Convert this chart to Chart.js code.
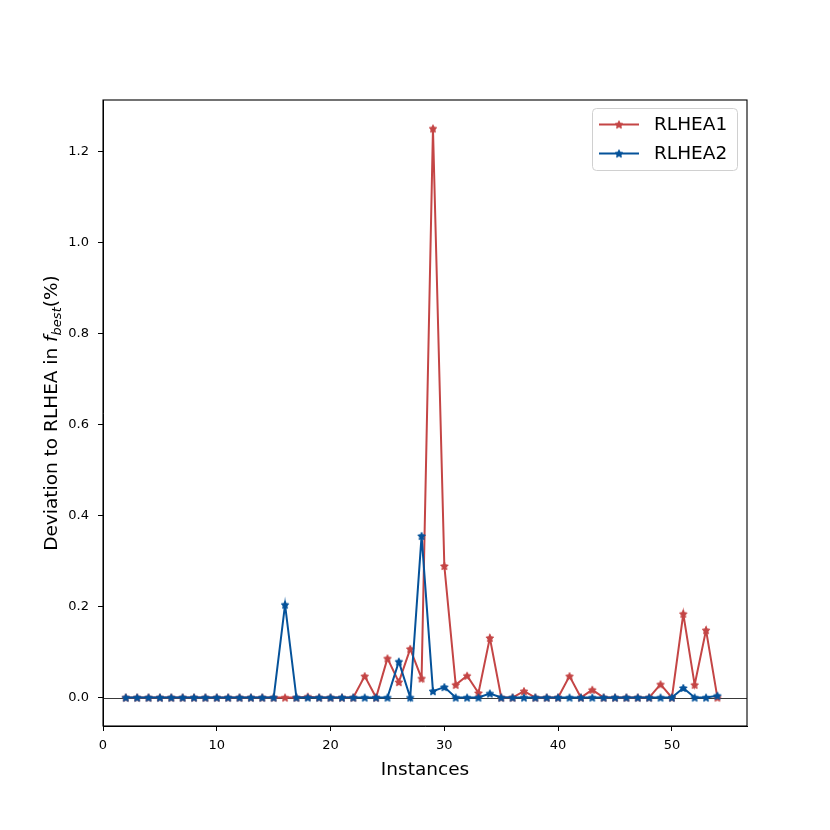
<!DOCTYPE html>
<html>
<head>
<meta charset="utf-8">
<script src="https://cdn.jsdelivr.net/npm/chart.js@4"></script>
<style>
  body { margin: 0; background: #fff; }
  #chart { display: block; }
</style>
</head>
<body>
<canvas id="chart" width="830" height="830" style="width:830px;height:830px"></canvas>
<script>
// Data
const instances = [2, 3, 4, 5, 6, 7, 8, 9, 10, 11, 12, 13, 14, 15, 16, 17, 18, 19, 20, 21, 22, 23, 24, 25, 26, 27, 28,
  29, 30, 31, 32, 33, 34, 35, 36, 37, 38, 39, 40, 41, 42, 43, 44, 45, 46, 47, 48, 49, 50, 51, 52, 53, 54];

const rlhea1 = [0, 0, 0, 0, 0, 0, 0, 0, 0, 0, 0, 0, 0, 0, 0, 0, 0.002, 0, 0, 0, 0, 0.047, 0, 0.086, 0.034, 0.107, 0.042,
  1.25, 0.289, 0.028, 0.048, 0.010, 0.131, 0, 0, 0.014, 0, 0, 0, 0.047, 0, 0.017, 0, 0, 0, 0, 0, 0.029, 0, 0.184, 0.028, 0.148, 0];

const rlhea2 = [0, 0, 0, 0, 0, 0, 0, 0, 0, 0, 0, 0, 0, 0, 0.204, 0, 0, 0, 0, 0, 0, 0, 0, 0, 0.079, 0, 0.355,
  0.014, 0.023, 0, 0, 0, 0.009, 0, 0, 0, 0, 0, 0, 0, 0, 0, 0, 0, 0, 0, 0, 0, 0, 0.021, 0, 0, 0.004];

const seriesNames = ["RLHEA1", "RLHEA2"];
const xTicks = [0, 10, 20, 30, 40, 50];
const yTicks = [0, 0.2, 0.4, 0.6, 0.8, 1.0, 1.2];

const RED = "#c44545";
const BLUE = "#05529a";
const FONT = "'DejaVu Sans', sans-serif";

// Star marker as a small canvas
function starImage(color, r) {
  const size = Math.ceil(r * 2 + 4);
  const c = document.createElement("canvas");
  c.width = c.height = size;
  const g = c.getContext("2d");
  g.translate(size / 2, size / 2 + 0.4);
  g.beginPath();
  for (let i = 0; i < 10; i++) {
    const rad = i % 2 === 0 ? r : r * 0.5;
    const a = -Math.PI / 2 + i * Math.PI / 5;
    g.lineTo(rad * Math.cos(a), rad * Math.sin(a));
  }
  g.closePath();
  g.fillStyle = color;
  g.fill();
  g.strokeStyle = color;
  g.lineWidth = 1;
  g.lineJoin = "round";
  g.stroke();
  return c;
}

const redStar = starImage(RED, 4);
const blueStar = starImage(BLUE, 4);

function toPoints(ys) {
  return instances.map((x, i) => ({ x: x, y: ys[i] }));
}

// Extras: frame, zero line, axis titles, legend
const extras = {
  id: "extras",
  beforeDatasetsDraw(chart) {
    const { ctx, chartArea: a, scales } = chart;
    const y0 = Math.round(scales.y.getPixelForValue(0)) + 0.5;
    ctx.save();
    ctx.strokeStyle = "#222";
    ctx.lineWidth = 0.9;
    ctx.beginPath();
    ctx.moveTo(a.left, y0);
    ctx.lineTo(a.right, y0);
    ctx.stroke();
    ctx.restore();
  },
  afterDraw(chart) {
    const { ctx, chartArea: a } = chart;
    ctx.save();
    // frame
    ctx.strokeStyle = "#000";
    ctx.lineWidth = 1.1;
    ctx.strokeRect(a.left, a.top, a.right - a.left, a.bottom - a.top);

    // x title
    ctx.fillStyle = "#000";
    ctx.font = "18.5px " + FONT;
    ctx.textAlign = "center";
    ctx.textBaseline = "alphabetic";
    ctx.fillText("Instances", (a.left + a.right) / 2, 775);

    // y title with italic f_best
    const parts = [
      { t: "Deviation to RLHEA in ", f: "18.5px " + FONT, dy: 0 },
      { t: "f", f: "italic 18.5px " + FONT, dy: 0 },
      { t: "best", f: "italic 13px " + FONT, dy: 4 },
      { t: "(%)", f: "18.5px " + FONT, dy: 0 }
    ];
    let total = 0;
    parts.forEach(p => { ctx.font = p.f; p.w = ctx.measureText(p.t).width; total += p.w; });
    ctx.translate(57, (a.top + a.bottom) / 2);
    ctx.rotate(-Math.PI / 2);
    ctx.textAlign = "left";
    let x = -total / 2;
    parts.forEach(p => {
      ctx.font = p.f;
      ctx.fillText(p.t, x, p.dy);
      x += p.w;
    });
    ctx.restore();

    // legend
    ctx.save();
    const lx = 592.5, ly = 108.5, lw = 145, lh = 62, r = 4;
    ctx.beginPath();
    ctx.moveTo(lx + r, ly);
    ctx.arcTo(lx + lw, ly, lx + lw, ly + lh, r);
    ctx.arcTo(lx + lw, ly + lh, lx, ly + lh, r);
    ctx.arcTo(lx, ly + lh, lx, ly, r);
    ctx.arcTo(lx, ly, lx + lw, ly, r);
    ctx.closePath();
    ctx.fillStyle = "rgba(255,255,255,0.8)";
    ctx.fill();
    ctx.strokeStyle = "#d0d0d0";
    ctx.lineWidth = 1;
    ctx.stroke();

    const rows = [
      { name: seriesNames[0], color: RED, img: redStar, y: 124.5 },
      { name: seriesNames[1], color: BLUE, img: blueStar, y: 153.5 }
    ];
    ctx.font = "18.5px " + FONT;
    ctx.textAlign = "left";
    ctx.textBaseline = "middle";
    rows.forEach(row => {
      ctx.strokeStyle = row.color;
      ctx.lineWidth = 2;
      ctx.beginPath();
      ctx.moveTo(599, row.y);
      ctx.lineTo(639, row.y);
      ctx.stroke();
      ctx.drawImage(row.img, 619 - row.img.width / 2, row.y - row.img.height / 2);
      ctx.fillStyle = "#000";
      ctx.fillText(row.name, 654, row.y + 1);
    });
    ctx.restore();
  }
};

new Chart(document.getElementById("chart"), {
  type: "line",
  data: {
    datasets: [
      {
        label: seriesNames[0],
        data: toPoints(rlhea1),
        borderColor: RED,
        backgroundColor: RED,
        borderWidth: 2,
        pointStyle: redStar,
        pointRadius: 4,
        tension: 0,
        order: 1
      },
      {
        label: seriesNames[1],
        data: toPoints(rlhea2),
        borderColor: BLUE,
        backgroundColor: BLUE,
        borderWidth: 2,
        pointStyle: blueStar,
        pointRadius: 4,
        tension: 0,
        order: 0
      }
    ]
  },
  options: {
    responsive: false,
    animation: false,
    devicePixelRatio: 1,
    layout: { padding: { top: 100, right: 83, bottom: 0, left: 0 } },
    plugins: { legend: { display: false }, tooltip: { enabled: false } },
    scales: {
      x: {
        type: "linear",
        min: 0,
        max: 56.6,
        afterFit: s => { s.height = 104; },
        afterBuildTicks: s => { s.ticks = xTicks.map(v => ({ value: v })); },
        grid: { drawOnChartArea: false, drawTicks: true, tickLength: 5, color: "#000", lineWidth: 1 },
        border: { display: true, color: "#000", width: 1 },
        ticks: { color: "#000", font: { family: FONT, size: 13 }, padding: 7, maxRotation: 0 }
      },
      y: {
        type: "linear",
        min: -0.0625,
        max: 1.3125,
        afterFit: s => { s.width = 103; },
        afterBuildTicks: s => { s.ticks = yTicks.map(v => ({ value: v })); },
        grid: { drawOnChartArea: false, drawTicks: true, tickLength: 5, color: "#000", lineWidth: 1 },
        border: { display: true, color: "#000", width: 1 },
        ticks: { color: "#000", font: { family: FONT, size: 13 }, padding: 9, callback: v => v.toFixed(1) }
      }
    }
  },
  plugins: [extras]
});
</script>
</body>
</html>
